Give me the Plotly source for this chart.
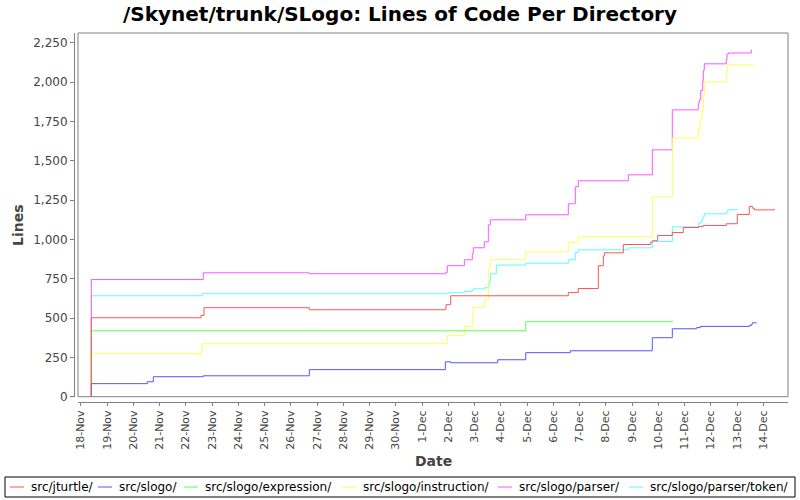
import plotly.graph_objects as go

# ---------------- data ----------------
series_names = ["src/jturtle/", "src/slogo/", "src/slogo/expression/",
                "src/slogo/instruction/", "src/slogo/parser/", "src/slogo/parser/token/"]
series_colors = ["#FF5555", "#5555FF", "#55FF55", "#FFFF55", "#FF55FF", "#55FFFF"]

jturtle_t = ["2008-11-18 09:36", "2008-11-18 09:36", "2008-11-22 13:54", "2008-11-22 16:38",
             "2008-11-26 16:55", "2008-12-01 21:16", "2008-12-01 21:53", "2008-12-02 02:11",
             "2008-12-06 13:42", "2008-12-06 22:51", "2008-12-07 17:08", "2008-12-07 21:43",
             "2008-12-07 22:38", "2008-12-08 16:00", "2008-12-09 17:02", "2008-12-09 18:30",
             "2008-12-09 23:27", "2008-12-10 12:48", "2008-12-10 22:51", "2008-12-11 12:56",
             "2008-12-11 17:08", "2008-12-12 14:10", "2008-12-13 00:14", "2008-12-13 11:12",
             "2008-12-13 13:57", "2008-12-13 15:46", "2008-12-14 10:03"]
jturtle_v = [0, 502, 517, 566, 553, 560, 585, 642, 663, 688, 833, 894, 915, 968, 983, 992,
             1025, 1044, 1076, 1082, 1089, 1100, 1159, 1210, 1199, 1188, 1195]

slogo_t = ["2008-11-18 09:36", "2008-11-18 09:36", "2008-11-20 12:48", "2008-11-20 18:17",
           "2008-11-22 16:00", "2008-11-26 16:55", "2008-12-01 21:16", "2008-12-02 02:11",
           "2008-12-03 21:10", "2008-12-04 22:47", "2008-12-06 15:33", "2008-12-09 18:30",
           "2008-12-10 12:48", "2008-12-11 10:45", "2008-12-11 14:24", "2008-12-13 11:12",
           "2008-12-13 13:02", "2008-12-13 13:57", "2008-12-13 17:59"]
slogo_v = [0, 83, 95, 127, 133, 172, 222, 216, 235, 280, 292, 375, 432, 439, 447, 453,
           460, 470, 470]

expression_t = ["2008-11-18 09:36", "2008-11-18 09:36", "2008-12-04 22:47", "2008-12-10 12:48"]
expression_v = [0, 419, 477, 483]

instruction_t = ["2008-11-18 09:36", "2008-11-18 09:36", "2008-11-22 13:54", "2008-11-22 14:48",
                 "2008-12-01 23:05", "2008-12-02 14:38", "2008-12-02 21:56", "2008-12-02 22:51",
                 "2008-12-03 08:54", "2008-12-03 12:35", "2008-12-03 14:24", "2008-12-04 22:47",
                 "2008-12-06 13:42", "2008-12-06 22:51", "2008-12-09 18:30", "2008-12-10 12:48",
                 "2008-12-11 12:35", "2008-12-11 14:08", "2008-12-11 15:58", "2008-12-11 17:08",
                 "2008-12-11 18:03", "2008-12-12 14:10", "2008-12-12 15:06", "2008-12-13 15:46"]
instruction_v = [0, 273, 290, 337, 390, 447, 508, 568, 616, 813, 871, 921, 981, 1017, 1271,
                 1646, 1699, 1761, 1813, 1919, 2002, 2059, 2110, 2110]

parser_t = ["2008-11-18 09:36", "2008-11-18 09:36", "2008-11-22 16:00", "2008-11-26 16:55",
            "2008-12-01 21:37", "2008-12-01 23:05", "2008-12-02 14:38", "2008-12-02 21:56",
            "2008-12-02 22:51", "2008-12-03 08:54", "2008-12-03 12:35", "2008-12-03 14:24",
            "2008-12-04 22:47", "2008-12-06 13:42", "2008-12-06 20:07", "2008-12-06 22:51",
            "2008-12-08 20:34", "2008-12-09 18:30", "2008-12-10 12:48", "2008-12-11 12:35",
            "2008-12-11 13:29", "2008-12-11 14:46", "2008-12-11 16:35", "2008-12-11 17:08",
            "2008-12-11 18:03", "2008-12-12 14:10", "2008-12-12 14:48", "2008-12-12 16:00",
            "2008-12-13 13:02"]
parser_v = [0, 745, 788, 782, 790, 833, 871, 909, 947, 985, 1093, 1125, 1157, 1227, 1335,
            1373, 1411, 1570, 1824, 1869, 1888, 1947, 2008, 2076, 2117, 2146, 2178, 2186, 2207]

token_t = ["2008-11-18 09:36", "2008-11-18 09:36", "2008-11-22 15:06", "2008-12-01 23:27",
           "2008-12-02 14:38", "2008-12-02 21:56", "2008-12-02 22:51", "2008-12-03 08:54",
           "2008-12-03 13:12", "2008-12-03 14:24", "2008-12-03 19:54", "2008-12-04 22:47",
           "2008-12-06 13:42", "2008-12-06 20:07", "2008-12-06 22:51", "2008-12-08 20:56",
           "2008-12-09 18:30", "2008-12-10 12:48", "2008-12-11 12:35", "2008-12-11 14:24",
           "2008-12-11 15:58", "2008-12-11 16:52", "2008-12-11 18:03", "2008-12-12 14:10",
           "2008-12-12 15:27", "2008-12-13 00:36"]
token_v = [0, 642, 655, 661, 669, 678, 686, 693, 731, 782, 837, 849, 871, 917, 934, 947,
           987, 1080, 1100, 1110, 1127, 1144, 1163, 1171, 1189, 1189]

y_ticks = [0, 250, 500, 750, 1000, 1250, 1500, 1750, 2000, 2250]
x_range = ["2008-11-17 21:26", "2008-12-14 22:34"]
y_range = [0, 2313]

series_t = [jturtle_t, slogo_t, expression_t, instruction_t, parser_t, token_t]
series_v = [jturtle_v, slogo_v, expression_v, instruction_v, parser_v, token_v]

# ---------------- layout helpers (pixel -> paper) ----------------
W, H = 800, 500
PL, PR, PT, PB = 74, 788, 33, 402   # paper area in pixels (axis lines sit at PL / PB)


def px(x):
    return (x - PL) / (PR - PL)


def py(y):
    return (PB - y) / (PB - PT)


GRAY = "#808080"
TXT = "#444444"
FONT = "DejaVu Sans"

fig = go.Figure()
# first series drawn on top (as in the reference), so add in reverse
for i in reversed(range(len(series_names))):
    fig.add_trace(go.Scatter(
        x=series_t[i], y=series_v[i], mode="lines", name=series_names[i],
        line=dict(color=series_colors[i], width=1, shape="hv"),
        showlegend=False, hoverinfo="x+y+name"))

shapes = [dict(type="rect", xref="x domain", yref="y domain", x0=0, x1=1, y0=0, y1=1,
               line=dict(color=GRAY, width=1), layer="above")]
annotations = [
    dict(text="<b>Lines</b>", x=px(18), y=py(225), xref="paper", yref="paper",
         textangle=-90, showarrow=False, xanchor="center", yanchor="middle",
         font=dict(family=FONT, size=14, color=TXT)),
    dict(text="<b>Date</b>", x=px(433), y=py(461), xref="paper", yref="paper",
         showarrow=False, xanchor="center", yanchor="middle",
         font=dict(family=FONT, size=14, color=TXT)),
]

# legend (manual, single row with short swatches)
legend_text_x = [29, 117, 203, 361, 517, 648]
LEG_Y = 487
shapes.append(dict(type="rect", xref="paper", yref="paper", x0=px(5), x1=px(795),
                   y0=py(477), y1=py(497), line=dict(color="black", width=1)))
for i, name in enumerate(series_names):
    tx = legend_text_x[i]
    shapes.append(dict(type="line", xref="paper", yref="paper", x0=px(tx - 19), x1=px(tx - 5),
                       y0=py(LEG_Y), y1=py(LEG_Y), line=dict(color=series_colors[i], width=1)))
    annotations.append(dict(text=name, x=px(tx), y=py(LEG_Y), xref="paper", yref="paper",
                            showarrow=False, xanchor="left", yanchor="middle",
                            font=dict(family=FONT, size=12, color="black")))

fig.update_layout(
    width=W, height=H,
    margin=dict(l=PL, r=W - PR, t=PT, b=H - PB, pad=0),
    paper_bgcolor="white", plot_bgcolor="white",
    title=dict(text="<b>/Skynet/trunk/SLogo: Lines of Code Per Directory</b>",
               x=0.5, xref="container", xanchor="center",
               y=1 - 14 / H, yref="container", yanchor="middle",
               font=dict(family=FONT, size=20, color="black")),
    xaxis=dict(type="date", domain=[px(78), 1], anchor="free", position=0,
               range=x_range, tickmode="linear", tick0="2008-11-18", dtick=86400000,
               tickformat="%-d-%b", tickangle=-90, ticks="outside", ticklen=3,
               tickcolor=GRAY, showline=True, linecolor=GRAY, linewidth=1,
               showgrid=False, zeroline=False,
               tickfont=dict(family=FONT, size=11, color=TXT)),
    yaxis=dict(domain=[py(396.7), 1], anchor="free", position=0,
               range=y_range, tickmode="array", tickvals=y_ticks, tickformat=",",
               ticks="outside", ticklen=4, tickcolor=GRAY, showline=True,
               linecolor=GRAY, linewidth=1, showgrid=False, zeroline=False,
               tickfont=dict(family=FONT, size=12, color=TXT)),
    shapes=shapes, annotations=annotations, showlegend=False,
)

fig.write_html("out.html")
